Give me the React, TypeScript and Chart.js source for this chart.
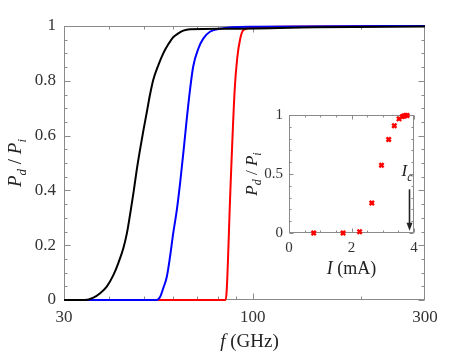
import React, { useEffect, useRef } from 'react';
import { Chart, registerables } from 'chart.js';
Chart.register(...registerables);

const FONT = '"Liberation Serif", "Times New Roman", serif';

// ---- main chart data (frequency in GHz, Pd/Pi) ----
const blackFreq = [30, 34.3, 36.2, 37.7, 39.4, 41.1, 42.4, 43.8, 44.8, 45.7, 46.7, 47.7, 48.7, 49.8, 50.9, 51.9, 53.0, 54.8, 56.5, 58.4, 60.2, 62.2, 64.2, 67.0, 86, 150, 300];
const blackVal = [0, 0, 0.009, 0.024, 0.049, 0.091, 0.134, 0.189, 0.243, 0.31, 0.389, 0.474, 0.547, 0.62, 0.687, 0.748, 0.803, 0.858, 0.9, 0.934, 0.959, 0.973, 0.983, 0.988, 0.99, 0.995, 0.998];

const blueFreq = [30, 54.2, 55.4, 56.5, 57.8, 59.0, 60.2, 61.6, 62.9, 64.2, 65.6, 67.0, 68.4, 70.7, 73.0, 76.1, 81.2, 100, 300];
const blueVal = [0, 0, 0.012, 0.043, 0.085, 0.158, 0.243, 0.328, 0.426, 0.535, 0.657, 0.766, 0.852, 0.918, 0.955, 0.979, 0.99, 0.997, 1.0];

const redFreq = [30, 84.1, 84.7, 86.7, 89.1, 90.6, 92.2, 94.2, 100, 300];
const redVal = [0, 0, 0.036, 0.4, 0.766, 0.885, 0.95, 0.985, 0.995, 1.0];

const mainXTicks = [30, 100, 300];
const mainXMinor = [40, 50, 60, 70, 80, 90, 200];
const mainYTicks = [0, 0.2, 0.4, 0.6, 0.8, 1];
const mainYMinor = [0.05, 0.1, 0.15, 0.25, 0.3, 0.35, 0.45, 0.5, 0.55, 0.65, 0.7, 0.75, 0.85, 0.9, 0.95];

// ---- inset data (current in mA, Pd/Pi) ----
const insetI = [0.79, 1.73, 2.26, 2.65, 2.96, 3.19, 3.37, 3.52, 3.63, 3.68, 3.73, 3.78];
const insetP = [0, 0, 0.01, 0.254, 0.574, 0.793, 0.909, 0.967, 0.987, 0.992, 0.995, 0.995];
const insetXTicks = [0, 2, 4];
const insetXMinor = [0.5, 1, 1.5, 2.5, 3, 3.5];
const insetYTicks = [0, 0.5, 1];
const insetYMinor = [0.1, 0.2, 0.3, 0.4, 0.6, 0.7, 0.8, 0.9];
const icValue = 3.83;
const icArrowFrom = 0.37;
const icArrowTo = 0.02;

type Part = { t: string; it?: boolean; sub?: boolean };

function drawRich(ctx: CanvasRenderingContext2D, parts: Part[], size: number, x: number, y: number, rot: number, color: string, align: 'center' | 'left' = 'center') {
  ctx.save();
  ctx.translate(x, y);
  if (rot) ctx.rotate(rot);
  const fontFor = (p: Part) => `${p.it ? 'italic ' : ''}${p.sub ? Math.round(size * 0.7) : size}px ${FONT}`;
  let total = 0;
  const widths = parts.map((p) => {
    ctx.font = fontFor(p);
    const w = ctx.measureText(p.t).width;
    total += w;
    return w;
  });
  let cx = align === 'center' ? -total / 2 : 0;
  ctx.fillStyle = color;
  ctx.textBaseline = 'alphabetic';
  ctx.textAlign = 'left';
  parts.forEach((p, i) => {
    ctx.font = fontFor(p);
    ctx.fillText(p.t, cx, p.sub ? size * 0.25 : 0);
    cx += widths[i];
  });
  ctx.restore();
}

function framePlugin(o: { xMajor: number[]; xMinor: number[]; yMajor: number[]; yMinor: number[]; major: number; minor: number }) {
  return {
    id: 'frameTicks',
    beforeDatasetsDraw(chart: any) {
      const { ctx, chartArea: a, scales } = chart;
      const xs = scales.x;
      const ys = scales.y;
      const L = Math.round(a.left) + 0.5;
      const R = Math.round(a.right) - 0.5;
      const T = Math.round(a.top) + 0.5;
      const B = Math.round(a.bottom) - 0.5;
      ctx.save();
      ctx.strokeStyle = '#8a8a8a';
      ctx.lineWidth = 1;
      ctx.strokeRect(L, T, R - L, B - T);
      ctx.beginPath();
      const xt = (v: number, len: number) => {
        const p = Math.round(xs.getPixelForValue(v)) + 0.5;
        ctx.moveTo(p, B); ctx.lineTo(p, B - len);
        ctx.moveTo(p, T); ctx.lineTo(p, T + len);
      };
      const yt = (v: number, len: number) => {
        const p = Math.round(ys.getPixelForValue(v)) + 0.5;
        ctx.moveTo(L, p); ctx.lineTo(L + len, p);
        ctx.moveTo(R, p); ctx.lineTo(R - len, p);
      };
      o.xMajor.forEach((v) => xt(v, o.major));
      o.xMinor.forEach((v) => xt(v, o.minor));
      o.yMajor.forEach((v) => yt(v, o.major));
      o.yMinor.forEach((v) => yt(v, o.minor));
      ctx.stroke();
      ctx.restore();
    },
  };
}

const pd: Part[] = [
  { t: 'P', it: true },
  { t: 'd', it: true, sub: true },
  { t: ' / ' },
  { t: 'P', it: true },
  { t: 'i', it: true, sub: true },
];

export default function App() {
  const mainRef = useRef<HTMLCanvasElement>(null);
  const insetRef = useRef<HTMLCanvasElement>(null);

  useEffect(() => {
    const mk = (f: number[], v: number[]) => f.map((x, i) => ({ x, y: v[i] }));
    const lineDs = (label: string, f: number[], v: number[], color: string) => ({
      label,
      data: mk(f, v),
      borderColor: color,
      backgroundColor: color,
      borderWidth: 2,
      pointRadius: 0,
      cubicInterpolationMode: 'monotone' as const,
      clip: false as any,
    });

    const main = new Chart(mainRef.current!, {
      type: 'line',
      data: {
        datasets: [
          lineDs('black', blackFreq, blackVal, '#000000'),
          lineDs('blue', blueFreq, blueVal, '#0000ff'),
          lineDs('red', redFreq, redVal, '#ff0000'),
        ],
      },
      options: {
        responsive: false,
        maintainAspectRatio: false,
        animation: false,
        layout: { padding: { left: 0, right: 44, top: 26, bottom: 0 } },
        plugins: { legend: { display: false }, tooltip: { enabled: false } },
        scales: {
          x: {
            type: 'logarithmic',
            min: 30,
            max: 300,
            afterBuildTicks: (s: any) => { s.ticks = mainXTicks.map((value) => ({ value })); },
            afterFit: (s: any) => { s.height = 52; },
            ticks: {
              autoSkip: false,
              maxRotation: 0,
              padding: 7,
              color: '#333',
              font: { family: FONT, size: 17 },
              callback: (v: any) => String(v),
            },
            grid: { display: false, drawTicks: false },
            border: { display: false },
          },
          y: {
            type: 'linear',
            min: 0,
            max: 1,
            afterBuildTicks: (s: any) => { s.ticks = mainYTicks.map((value) => ({ value })); },
            afterFit: (s: any) => { s.width = 64; },
            ticks: {
              padding: 8,
              color: '#333',
              font: { family: FONT, size: 17 },
              callback: (v: any) => String(v),
            },
            grid: { display: false, drawTicks: false },
            border: { display: false },
          },
        },
      },
      plugins: [
        framePlugin({ xMajor: [100], xMinor: mainXMinor, yMajor: mainYTicks, yMinor: mainYMinor, major: 6, minor: 3 }),
        {
          id: 'mainTitles',
          afterDraw(chart: any) {
            const { ctx, chartArea: a } = chart;
            drawRich(ctx, [{ t: 'f', it: true }, { t: ' (GHz)' }], 19, (a.left + a.right) / 2 + 5, 347, 0, '#222');
            drawRich(ctx, pd, 19, 21, (a.top + a.bottom) / 2, -Math.PI / 2, '#222');
          },
        },
      ],
    } as any);

    const inset = new Chart(insetRef.current!, {
      type: 'scatter',
      data: {
        datasets: [
          {
            label: 'inset',
            data: insetI.map((x, i) => ({ x, y: insetP[i] })),
            borderColor: '#ff0000',
            backgroundColor: '#ff0000',
            pointStyle: 'crossRot',
            pointRadius: 3,
            borderWidth: 2.4,
            clip: false as any,
          },
        ],
      },
      options: {
        responsive: false,
        maintainAspectRatio: false,
        animation: false,
        layout: { padding: { left: 0, right: 16, top: 12, bottom: 0 } },
        plugins: { legend: { display: false }, tooltip: { enabled: false } },
        scales: {
          x: {
            type: 'linear',
            min: 0,
            max: 4,
            afterBuildTicks: (s: any) => { s.ticks = insetXTicks.map((value) => ({ value })); },
            afterFit: (s: any) => { s.height = 52; },
            ticks: {
              autoSkip: false,
              maxRotation: 0,
              padding: 6,
              color: '#333',
              font: { family: FONT, size: 15 },
              callback: (v: any) => String(v),
            },
            grid: { display: false, drawTicks: false },
            border: { display: false },
          },
          y: {
            type: 'linear',
            min: 0,
            max: 1,
            afterBuildTicks: (s: any) => { s.ticks = insetYTicks.map((value) => ({ value })); },
            afterFit: (s: any) => { s.width = 49; },
            ticks: {
              padding: 6,
              color: '#333',
              font: { family: FONT, size: 15 },
              callback: (v: any) => String(v),
            },
            grid: { display: false, drawTicks: false },
            border: { display: false },
          },
        },
      },
      plugins: [
        framePlugin({ xMajor: insetXTicks, xMinor: insetXMinor, yMajor: insetYTicks, yMinor: insetYMinor, major: 4, minor: 2 }),
        {
          id: 'insetExtras',
          afterDraw(chart: any) {
            const { ctx, chartArea: a, scales } = chart;
            drawRich(ctx, [{ t: 'I', it: true }, { t: ' (mA)' }], 18, (a.left + a.right) / 2, 174, 0, '#222');
            drawRich(ctx, pd, 17, 17, (a.top + a.bottom) / 2, -Math.PI / 2, '#222');
            // Ic arrow
            const xp = Math.round(scales.x.getPixelForValue(icValue)) + 0.5;
            const y0 = scales.y.getPixelForValue(icArrowFrom);
            const y1 = scales.y.getPixelForValue(icArrowTo);
            ctx.save();
            ctx.strokeStyle = '#222';
            ctx.fillStyle = '#222';
            ctx.lineWidth = 1.6;
            ctx.beginPath();
            ctx.moveTo(xp, y0);
            ctx.lineTo(xp, y1 - 6);
            ctx.stroke();
            ctx.beginPath();
            ctx.moveTo(xp - 3, y1 - 8);
            ctx.lineTo(xp + 3, y1 - 8);
            ctx.lineTo(xp, y1);
            ctx.closePath();
            ctx.fill();
            ctx.restore();
            drawRich(ctx, [{ t: 'I', it: true }, { t: 'c', it: true, sub: true }], 17, xp - 8, y0 - 13, 0, '#222', 'left');
          },
        },
      ],
    } as any);

    return () => {
      main.destroy();
      inset.destroy();
    };
  }, []);

  return (
    <div style={{ position: 'fixed', left: 0, top: 0, width: 469, height: 352, background: '#fff' }}>
      <canvas ref={mainRef} width={469} height={352} style={{ position: 'absolute', left: 0, top: 0, width: 469, height: 352 }} />
      <canvas ref={insetRef} width={190} height={185} style={{ position: 'absolute', left: 240, top: 100, width: 190, height: 185 }} />
    </div>
  );
}
